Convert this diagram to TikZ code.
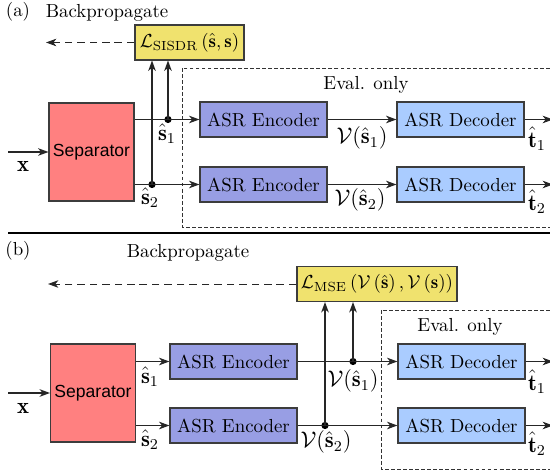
\documentclass[tikz,border=0pt]{standalone}
\usepackage{fontspec}
\usepackage{amsmath}
\newfontfamily\sepfont{Liberation Sans}
\usetikzlibrary{arrows.meta}
\definecolor{sepcol}{RGB}{255,128,128}
\definecolor{enccol}{RGB}{152,158,228}
\definecolor{deccol}{RGB}{170,204,255}
\definecolor{losscol}{RGB}{240,226,110}
\definecolor{bordercol}{RGB}{60,60,60}
\begin{document}
\begin{tikzpicture}[x=0.53pt,y=-0.53pt,
  blk/.style={draw=bordercol,line width=0.6pt,inner sep=0pt,minimum width=67.3pt,minimum height=18.5pt},
  sepbox/.style={blk,fill=sepcol,minimum width=45pt,minimum height=52pt,font=\sepfont\fontsize{9.3}{11}\selectfont},
  encbox/.style={blk,fill=enccol},
  decbox/.style={blk,fill=deccol},
  lossbox/.style={blk,fill=losscol,minimum height=18.5pt},
  arr/.style={draw=black!85,line width=0.7pt,-{Stealth[length=5.5pt,width=4pt,inset=1.6pt]}},
  bparr/.style={arr,line width=0.5pt,dash pattern=on 4pt off 2.6pt},
  evalbox/.style={draw=black!80,line width=0.5pt,dash pattern=on 2pt off 1.2pt},
  dot/.style={circle,fill=black,inner sep=0pt,minimum size=3.8pt},
  lbl/.style={inner sep=0pt},
  mlbl/.style={inner sep=0pt,font=\large}
]
\useasboundingbox (0,0) rectangle (550,472);
\clip (0,0) rectangle (550,472);

% ---------------- (a) ----------------
\node[lbl] (ta) at (18,12) {(a)};
\node[lbl] (bpta) at (107,13) {Backpropagate};
\draw[evalbox] (182,68) rectangle (560,227);
\node[lbl] (evala) at (366,85) {Eval. only};

\node[sepbox] (sepA) at (91.5,152) {Separator};
\node[encbox] (encA1) at (263.5,119.5) {ASR Encoder};
\node[encbox] (encA2) at (263.5,184.5) {ASR Encoder};
\node[decbox] (decA1) at (460.5,119.5) {ASR Decoder};
\node[decbox] (decA2) at (460.5,184.5) {ASR Decoder};
\node[lossbox,minimum width=57.8pt] (lossA) at (189.5,42.5) {$\mathcal{L}_{\mathrm{SISDR}}\left(\hat{\mathbf{s}},\mathbf{s}\right)$};

\coordinate (inA) at (8,152);
\coordinate (bpA) at (46,42.5);
\coordinate (outA1) at (553,119.5);
\coordinate (outA2) at (553,184.5);
\node[dot] (dA1) at (168,119.5) {};
\node[dot] (dA2) at (152,184.5) {};

\draw[arr] (inA) -- (sepA.west);
\node[mlbl] (xA) at (23,166) {$\mathbf{x}$};
\draw[arr] (sepA.east |- encA1.west) -- (encA1.west);
\draw[arr] (sepA.east |- encA2.west) -- (encA2.west);
\draw[arr] (dA1.center) -- (dA1 |- lossA.south);
\draw[arr] (dA2.center) -- (dA2 |- lossA.south);
\node[mlbl] (s1A) at (167,134) {$\hat{\mathbf{s}}_1$};
\node[mlbl] (s2A) at (150,198) {$\hat{\mathbf{s}}_2$};
\draw[arr] (encA1.east) -- (decA1.west);
\draw[arr] (encA2.east) -- (decA2.west);
\node[mlbl] (vA1) at (362,138) {$\mathcal{V}(\hat{\mathbf{s}}_1)$};
\node[mlbl] (vA2) at (360,200) {$\mathcal{V}(\hat{\mathbf{s}}_2)$};
\draw[arr] (decA1.east) -- (outA1);
\draw[arr] (decA2.east) -- (outA2);
\node[mlbl] (tA1) at (537,139) {$\hat{\mathbf{t}}_1$};
\node[mlbl] (tA2) at (537,202) {$\hat{\mathbf{t}}_2$};
\draw[bparr] (lossA.west) -- (bpA);

% divider
\coordinate (divL) at (8,233);
\coordinate (divR) at (552,233);
\draw[line width=0.7pt] (divL) -- (divR);

% ---------------- (b) ----------------
\node[lbl] (tb) at (18,251) {(b)};
\node[lbl] (bptb) at (188,253) {Backpropagate};
\draw[evalbox] (381,310) rectangle (560,469);
\node[lbl] (evalb) at (460,327) {Eval. only};

\node[sepbox] (sepB) at (93,393) {Separator};
\node[encbox] (encB1) at (233.5,361.5) {ASR Encoder};
\node[encbox] (encB2) at (233.5,425.5) {ASR Encoder};
\node[decbox] (decB1) at (461.5,361.5) {ASR Decoder};
\node[decbox] (decB2) at (461.5,425.5) {ASR Decoder};
\node[lossbox,minimum width=84.8pt] (lossB) at (377,284) {$\mathcal{L}_{\mathrm{MSE}}\left(\mathcal{V}\left(\hat{\mathbf{s}}\right),\mathcal{V}\left(\mathbf{s}\right)\right)$};

\coordinate (inB) at (8,393);
\coordinate (bpB) at (48,284);
\coordinate (outB1) at (553,361.5);
\coordinate (outB2) at (553,425.5);
\node[dot] (dB1) at (353,361.5) {};
\node[dot] (dB2) at (325,425.5) {};

\draw[arr] (inB) -- (sepB.west);
\node[mlbl] (xB) at (23,408) {$\mathbf{x}$};
\draw[arr] (sepB.east |- encB1.west) -- (encB1.west);
\draw[arr] (sepB.east |- encB2.west) -- (encB2.west);
\node[mlbl] (s1B) at (150,377) {$\hat{\mathbf{s}}_1$};
\node[mlbl] (s2B) at (150,440) {$\hat{\mathbf{s}}_2$};
\draw[arr] (encB1.east) -- (decB1.west);
\draw[arr] (encB2.east) -- (decB2.west);
\draw[arr] (dB1.center) -- (dB1 |- lossB.south);
\draw[arr] (dB2.center) -- (dB2 |- lossB.south);
\node[mlbl] (vB1) at (353,381) {$\mathcal{V}(\hat{\mathbf{s}}_1)$};
\node[mlbl] (vB2) at (326,442) {$\mathcal{V}(\hat{\mathbf{s}}_2)$};
\draw[arr] (decB1.east) -- (outB1);
\draw[arr] (decB2.east) -- (outB2);
\node[mlbl] (tB1) at (537,382) {$\hat{\mathbf{t}}_1$};
\node[mlbl] (tB2) at (537,444) {$\hat{\mathbf{t}}_2$};
\draw[bparr] (lossB.west) -- (bpB);
\end{tikzpicture}
\end{document}
